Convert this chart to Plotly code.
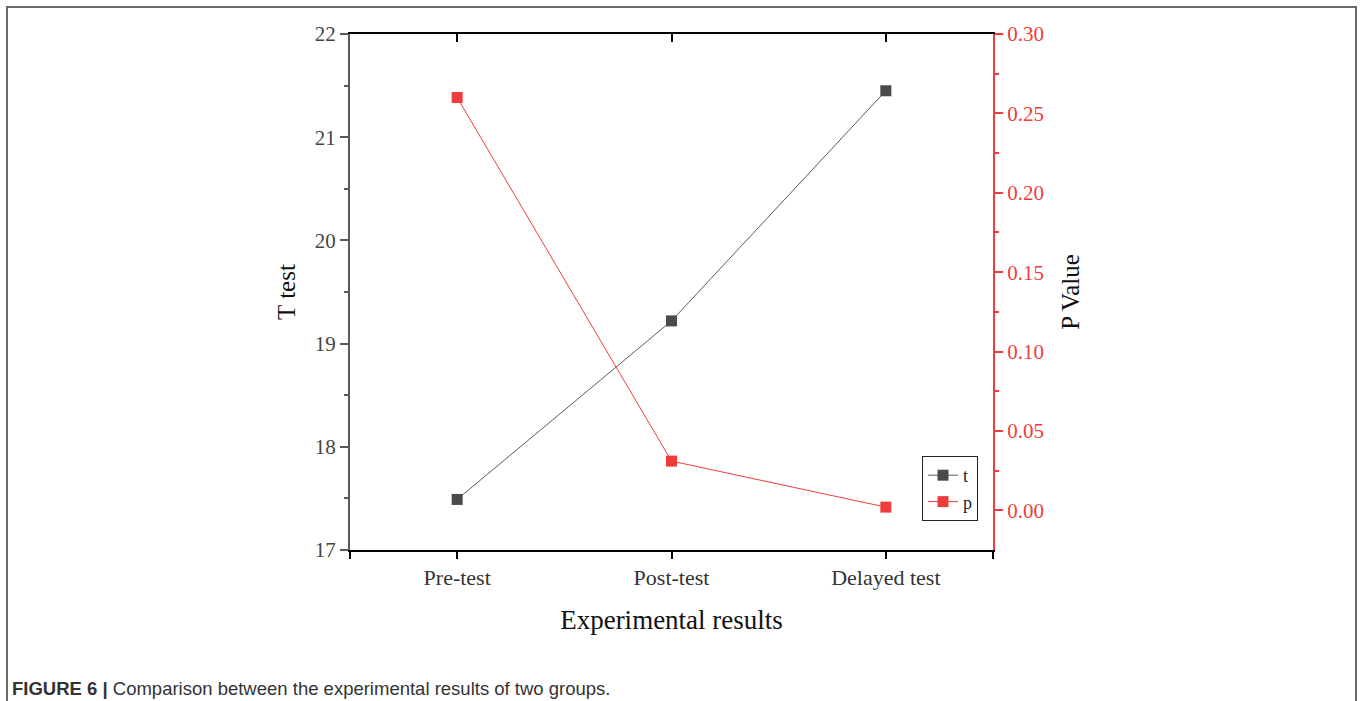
import plotly.graph_objects as go

# Data
categories = ["Pre-test", "Post-test", "Delayed test"]
t_values = [17.49, 19.22, 21.45]
p_values = [0.260, 0.031, 0.002]

W, H = 1360, 701
ML, MR, MT, MB = 350, 367, 34, 151
PW = W - ML - MR
PH = H - MT - MB

xpos = list(range(len(categories)))
serif = "Liberation Serif, Times New Roman, serif"
grey = "#5a5a5a"
red = "#f03c3c"
dark = "#4a4a4a"

fig = go.Figure()

fig.add_trace(go.Scatter(
    x=xpos, y=t_values, name="t", mode="lines+markers",
    line=dict(color="#5a5a5a", width=1),
    marker=dict(symbol="square", size=11, color=dark),
    xaxis="x", yaxis="y",
))
fig.add_trace(go.Scatter(
    x=xpos, y=p_values, name="p", mode="lines+markers",
    line=dict(color=red, width=1),
    marker=dict(symbol="square", size=11, color=red),
    xaxis="x", yaxis="y2",
))


def px_x(px):
    return (px - ML) / PW


def px_y(py):
    return (H - MB - py) / PH


fig.update_layout(
    width=W, height=H,
    margin=dict(l=ML, r=MR, t=MT, b=MB, pad=0),
    paper_bgcolor="white", plot_bgcolor="white",
    font=dict(family=serif, color="#333333"),
    showlegend=True,
    legend=dict(
        x=px_x(922), y=px_y(456), xanchor="left", yanchor="top",
        bgcolor="white", bordercolor="#222222", borderwidth=1,
        font=dict(family=serif, size=18, color="#222222"),
        itemwidth=30, tracegroupgap=0,
        itemsizing="trace",
    ),
    xaxis=dict(
        range=[-0.5, 2.5],
        tickvals=[-0.5] + xpos + [2.5],
        ticktext=[""] + categories + [""],
        ticks="outside", ticklen=7, tickwidth=2, tickcolor="black",
        showline=True, linecolor="black", linewidth=2,
        showgrid=False, zeroline=False,
        tickfont=dict(family=serif, size=22, color="#333333"),
        title=dict(text="Experimental results",
                   font=dict(family=serif, size=27, color="#111111"),
                   standoff=21),
    ),
    xaxis2=dict(
        overlaying="x", side="top", matches="x",
        range=[-0.5, 2.5],
        tickvals=xpos, ticktext=["", "", ""],
        ticks="inside", ticklen=8, tickwidth=2, tickcolor="black",
        showline=True, linecolor="black", linewidth=2,
        showgrid=False, zeroline=False,
    ),
    yaxis=dict(
        range=[17, 22],
        tickvals=[17, 18, 19, 20, 21, 22],
        ticks="outside", ticklen=8, tickwidth=2, tickcolor=grey,
        minor=dict(ticks="outside", ticklen=4, tickwidth=2, tickcolor=grey,
                   tickvals=[17.5, 18.5, 19.5, 20.5, 21.5]),
        showline=True, linecolor=grey, linewidth=2,
        showgrid=False, zeroline=False,
        tickfont=dict(family=serif, size=21, color="#444444"),
        title=dict(text="T test",
                   font=dict(family=serif, size=25, color="#111111"),
                   standoff=12),
    ),
    yaxis2=dict(
        overlaying="y", side="right", anchor="x",
        range=[-0.025, 0.30],
        tickvals=[0, 0.05, 0.10, 0.15, 0.20, 0.25, 0.30],
        ticktext=["0.00", "0.05", "0.10", "0.15", "0.20", "0.25", "0.30"],
        ticks="outside", ticklen=8, tickwidth=2, tickcolor=red,
        minor=dict(ticks="outside", ticklen=4, tickwidth=2, tickcolor=red,
                   tickvals=[0.025, 0.075, 0.125, 0.175, 0.225, 0.275]),
        showline=True, linecolor=red, linewidth=2,
        showgrid=False, zeroline=False,
        tickfont=dict(family=serif, size=21, color=red),
        title=dict(text="P Value",
                   font=dict(family=serif, size=25, color="#111111"),
                   standoff=19),
    ),
)

# Dummy trace so the top axis is drawn
fig.add_trace(go.Scatter(x=[None], y=[None], xaxis="x2", yaxis="y",
                         showlegend=False, hoverinfo="skip"))

# Outer frame around the figure
fig.add_shape(
    type="rect", xref="paper", yref="paper",
    x0=px_x(7), x1=px_x(1356), y0=px_y(720), y1=px_y(7),
    line=dict(color="#6a6a6a", width=2), fillcolor="rgba(0,0,0,0)",
    layer="below",
)

# Caption
fig.add_annotation(
    xref="paper", yref="paper",
    x=px_x(10), y=px_y(688), xanchor="left", yanchor="middle",
    text="<b>FIGURE 6 |</b> Comparison between the experimental results of two groups.",
    showarrow=False,
    font=dict(family="Liberation Sans, Arial, sans-serif", size=18.5, color="#333333"),
)

fig.write_html("out.html")
